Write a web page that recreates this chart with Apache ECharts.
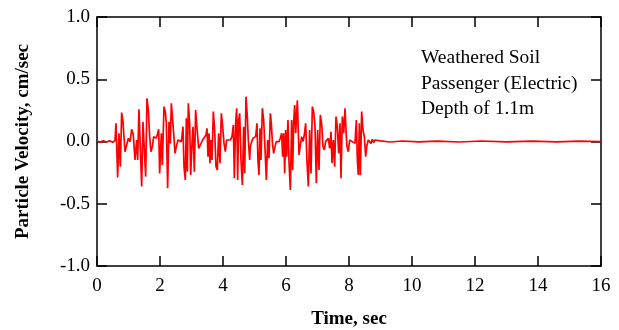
<!DOCTYPE html>
<html><head><meta charset="utf-8">
<script src="https://cdn.jsdelivr.net/npm/echarts@6/dist/echarts.min.js"></script>
<style>html,body{margin:0;padding:0;background:#fff}#c{width:619px;height:330px}</style>
</head><body><div id="c"></div>
<script>
const timeSec = [0,0.1,0.2,0.3,0.4,0.5,0.571,0.603,0.656,0.698,0.741,0.783,0.825,0.889,0.942,0.995,1.048,1.101,1.153,1.206,1.259,1.291,1.333,1.376,1.418,1.460,1.503,1.545,1.587,1.630,1.672,1.714,1.757,1.799,
1.884,1.926,1.958,1.989,2.042,2.074,2.127,2.169,2.201,2.243,2.286,2.328,2.360,2.392,2.434,2.476,2.519,2.571,2.624,2.677,2.730,2.762,2.804,2.836,2.868,2.899,2.942,2.974,3.016,3.048,3.090,3.132,3.175,3.228,3.280,
3.354,3.407,3.460,3.492,3.524,3.556,3.587,3.619,3.651,3.693,3.735,3.778,3.820,3.862,3.905,3.947,3.990,4.032,4.074,4.116,4.169,4.233,4.286,4.328,4.360,4.402,4.434,4.466,4.497,4.529,4.571,4.614,4.656,4.688,4.730,4.772,4.804,4.847,
4.868,4.910,4.952,4.995,5.037,5.079,5.111,5.143,5.175,5.206,5.249,5.291,5.333,5.376,5.418,5.460,5.503,5.534,5.566,5.608,5.651,5.693,5.735,5.778,5.820,5.862,5.894,5.926,5.958,5.989,6.021,6.063,6.095,6.138,6.180,6.212,6.243,6.275,6.307,6.360,
6.413,6.455,6.497,6.540,6.582,6.624,6.667,6.709,6.751,6.794,6.836,6.878,6.921,6.963,7.005,7.048,7.090,7.132,7.175,7.217,7.259,7.302,7.344,7.386,7.429,7.460,7.503,7.545,7.587,7.630,7.672,7.714,7.746,7.788,7.831,7.873,7.915,
7.937,7.979,8.021,8.063,8.106,8.148,8.190,8.233,8.265,8.296,8.328,8.360,8.402,8.444,8.487,8.529,8.571,8.614,8.656,8.698,8.741,8.783,8.825,8.878,
9.0,9.3,9.7,10.2,10.8,11.5,12.2,13.0,13.8,14.6,15.3,16.0];
const velocity = [0.004,-0.005,0.006,-0.004,0.005,-0.006,0.007,0.146,-0.288,0.066,-0.202,0.232,0.159,-0.082,-0.028,0.026,-0.001,0.098,0.052,-0.148,0.012,-0.148,0.258,0.253,-0.362,0.159,0.146,-0.282,0.347,0.253,0.039,-0.082,-0.041,0.039,
0.026,0.039,0.098,-0.256,0.066,-0.189,0.280,0.240,0.146,-0.376,0.159,-0.015,0.307,0.200,0.066,-0.095,-0.041,0.012,0.026,-0.001,0.119,-0.202,-0.309,0.186,-0.242,0.307,0.146,-0.269,-0.015,0.119,-0.242,0.253,0.106,-0.055,-0.068,
0.012,0.026,0.052,0.106,-0.122,0.066,-0.175,0.012,-0.148,0.240,0.092,-0.202,-0.229,0.066,-0.175,0.226,0.119,-0.015,-0.082,0.012,0.026,0.012,0.039,0.133,-0.296,0.146,0.266,-0.309,0.173,0.226,-0.148,-0.349,0.119,-0.256,0.360,0.200,0.012,-0.148,
-0.041,-0.001,0.026,0.012,0.039,0.146,-0.162,-0.269,0.106,-0.148,0.266,0.173,-0.055,-0.309,0.012,-0.135,0.226,0.146,-0.001,-0.095,-0.041,-0.001,0.012,-0.001,0.026,0.066,-0.122,0.066,-0.256,0.092,-0.122,0.173,-0.162,-0.389,0.173,-0.229,0.146,0.293,0.066,0.330,
-0.108,-0.028,0.039,-0.001,0.052,0.146,-0.162,-0.362,0.092,-0.256,0.280,0.240,0.119,-0.336,0.092,-0.229,0.213,0.146,-0.041,-0.068,-0.001,0.012,0.026,-0.055,0.079,-0.175,0.012,-0.202,0.200,0.119,-0.095,0.146,-0.296,0.200,0.066,0.266,0.039,
-0.041,-0.082,0.012,0.026,-0.001,0.012,-0.015,0.173,-0.148,-0.269,0.146,-0.269,0.240,0.092,0.039,-0.122,-0.028,0.012,0.026,-0.015,0.018,-0.009,0.012,-0.004,
0.005,-0.004,0.004,-0.003,0.003,-0.004,0.004,-0.003,0.003,-0.003,0.003,0.0];
const xTicks = [0,2,4,6,8,10,12,14,16];
const yTicks = [-1.0,-0.5,0.0,0.5,1.0];
const legendLines = ['Weathered Soil','Passenger (Electric)','Depth of 1.1m'];

const serif = '"Liberation Serif","Times New Roman",serif';
const chart = echarts.init(document.getElementById('c'), null, {renderer:'canvas'});
const axisLine = {show:true, onZero:false, lineStyle:{color:'#000', width:1.5}};
const tick = {show:true, inside:true, length:10, lineStyle:{color:'#000', width:1.5}};
chart.setOption({
  animation:false,
  backgroundColor:'#fff',
  grid:{left:97, right:18, top:17, bottom:64, containLabel:false, outerBoundsMode:'none'},
  xAxis:[
    {type:'value', position:'bottom', min:xTicks[0], max:xTicks[xTicks.length-1], interval:2,
     axisLine:axisLine, axisTick:tick, splitLine:{show:false},
     axisLabel:{color:'#000', fontFamily:serif, fontSize:19, margin:11},
     name:'Time, sec', nameLocation:'middle', nameGap:44,
     nameTextStyle:{color:'#000', fontFamily:serif, fontSize:19, fontWeight:'bold'}},
    {type:'value', position:'top', min:0, max:16, interval:2,
     axisLine:axisLine, axisTick:tick, splitLine:{show:false}, axisLabel:{show:false}}
  ],
  yAxis:[
    {type:'value', position:'left', min:yTicks[0], max:yTicks[yTicks.length-1], interval:0.5,
     axisLine:axisLine, axisTick:tick, splitLine:{show:false},
     axisLabel:{color:'#000', fontFamily:serif, fontSize:19, margin:7, formatter:v=>v.toFixed(1)},
     name:'Particle Velocity, cm/sec', nameLocation:'middle', nameGap:64, nameRotate:90,
     nameTextStyle:{color:'#000', fontFamily:serif, fontSize:19, fontWeight:'bold'}},
    {type:'value', position:'right', min:-1, max:1, interval:0.5,
     axisLine:axisLine, axisTick:tick, splitLine:{show:false}, axisLabel:{show:false}}
  ],
  graphic: legendLines.map((s,i)=>({type:'text', left:421, top:48+i*25.5,
     style:{text:s, fill:'#000', font:'19.5px '+serif}})),
  series:[{type:'line', xAxisIndex:0, yAxisIndex:0, showSymbol:false, symbol:'none',
    data: timeSec.map((t,i)=>[t, velocity[i]]),
    lineStyle:{color:'#ff0000', width:1.7}, itemStyle:{color:'#ff0000'}}]
});
</script></body></html>
